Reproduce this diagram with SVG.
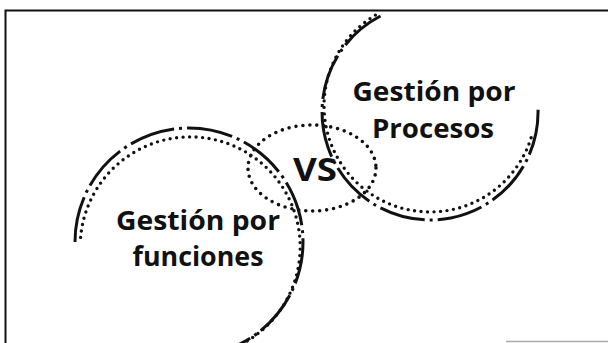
<svg xmlns="http://www.w3.org/2000/svg" width="608" height="343" viewBox="0 0 608 343">
<style>
.dash{fill:none;stroke:#111;stroke-width:3;stroke-dasharray:46 5 3 5}
.dot{fill:none;stroke:#111;stroke-width:3.4;stroke-linecap:round;stroke-dasharray:0 6.5}
.dot2{fill:none;stroke:#111;stroke-width:3.6;stroke-linecap:round;stroke-dasharray:0 7}
.lbl{font-family:"Open Sans","Liberation Sans",sans-serif;font-weight:bold;fill:#111;text-anchor:middle}
</style>
<rect width="608" height="343" fill="#fff"/>
<g id="frame">
<path d="M5.5 343 V10.5 H608" fill="none" stroke="#111" stroke-width="2"/>
<path d="M506 341.5 H608" fill="none" stroke="#aaa" stroke-width="1.5"/>
</g>
<g id="connectors">
</g>
<g id="funciones">
<path class="dash" d="M75 242 A114 114 0 1 1 237.2 345.3"/>
<path class="dot" d="M80.6 237.4 A110 110 0 1 1 246 341.7"/>
<text class="lbl" x="198" y="230" font-size="26" textLength="164" lengthAdjust="spacingAndGlyphs">Gestión por</text>
<text class="lbl" x="198" y="266" font-size="26" textLength="131" lengthAdjust="spacingAndGlyphs">funciones</text>
</g>
<g id="procesos">
<path class="dash" d="M380.5 16 A108 108 0 1 0 537.9 106.3"/>
<path class="dot" d="M375.4 15.1 A106 106 0 1 0 532.4 133.4"/>
<text class="lbl" x="434" y="101" font-size="26" textLength="163" lengthAdjust="spacingAndGlyphs">Gestión por</text>
<text class="lbl" x="433" y="138" font-size="26" textLength="122" lengthAdjust="spacingAndGlyphs">Procesos</text>
</g>
<g id="vs">
<ellipse class="dot2" cx="312" cy="168" rx="64" ry="43"/>
<text class="lbl" x="315" y="181" font-size="32" textLength="44" lengthAdjust="spacingAndGlyphs">VS</text>
</g>
</svg>
